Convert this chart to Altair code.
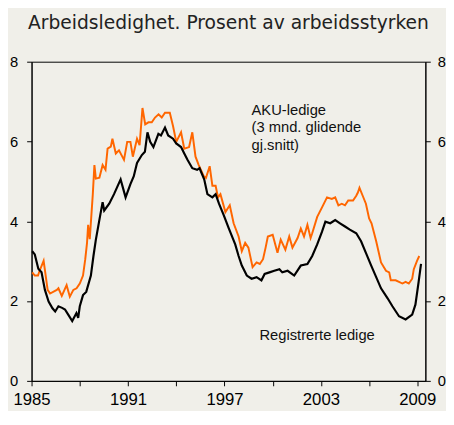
import altair as alt
import pandas as pd

# Registrerte ledige (per cent of labour force)
reg_year = [1985.04, 1985.2, 1985.42, 1985.62, 1985.83, 1986.06, 1986.3, 1986.47, 1986.67, 1986.9,
            1987.08, 1987.28, 1987.53, 1987.79, 1987.9, 1988.0, 1988.2, 1988.4, 1988.69, 1988.85,
            1989.0, 1989.2, 1989.42, 1989.52, 1989.83, 1990.13, 1990.54, 1990.85, 1991.15, 1991.36,
            1991.56, 1991.86, 1992.05, 1992.21, 1992.38, 1992.58, 1992.89, 1993.05, 1993.3, 1993.5,
            1993.8, 1994.0, 1994.3, 1994.5, 1994.7, 1995.0, 1995.3, 1995.45, 1995.74, 1995.94,
            1996.25, 1996.45, 1996.66, 1996.96, 1997.27, 1997.47, 1997.67, 1997.88, 1998.08, 1998.39,
            1998.69, 1999.0, 1999.3, 1999.5, 1999.8, 2000.1, 2000.42, 2000.6, 2000.93, 2001.34,
            2001.75, 2002.16, 2002.46, 2002.77, 2003.07, 2003.28, 2003.58, 2003.89, 2004.19, 2004.5,
            2004.8, 2005.2, 2005.5, 2005.8, 2006.13, 2006.44, 2006.74, 2007.15, 2007.45, 2007.86,
            2008.27, 2008.68, 2008.88, 2009.08, 2009.23]
reg_val = [3.25, 3.17, 2.81, 2.72, 2.28, 1.99, 1.82, 1.74, 1.87, 1.83,
           1.79, 1.66, 1.50, 1.70, 1.58, 1.87, 2.15, 2.23, 2.64, 3.13,
           3.54, 3.99, 4.48, 4.27, 4.44, 4.68, 5.05, 4.60, 4.93, 5.13,
           5.46, 5.66, 5.74, 6.23, 5.99, 5.86, 6.19, 6.15, 6.35, 6.15,
           6.07, 5.95, 5.86, 5.70, 5.54, 5.33, 5.29, 5.33, 5.05, 4.68,
           4.60, 4.68, 4.44, 4.15, 3.82, 3.62, 3.42, 3.13, 2.89, 2.64,
           2.56, 2.60, 2.52, 2.68, 2.72, 2.76, 2.80, 2.72, 2.76, 2.64,
           2.89, 2.93, 3.13, 3.42, 3.74, 3.99, 3.95, 4.03, 3.95, 3.87,
           3.79, 3.70, 3.50, 3.21, 2.89, 2.60, 2.32, 2.07, 1.87, 1.62,
           1.54, 1.66, 1.91, 2.48, 2.93]

# AKU-ledige, 3-month moving average
aku_year = [1985.04, 1985.2, 1985.4, 1985.5, 1985.75, 1985.85, 1986.0, 1986.15, 1986.57, 1986.67,
            1986.88, 1987.18, 1987.38, 1987.6, 1987.8, 1988.0, 1988.2, 1988.34, 1988.45, 1988.52,
            1988.62, 1988.81, 1988.91, 1989.0, 1989.22, 1989.42, 1989.6, 1989.73, 1989.93, 1990.03,
            1990.24, 1990.44, 1990.75, 1990.95, 1991.15, 1991.3, 1991.56, 1991.72, 1991.9, 1992.07,
            1992.27, 1992.48, 1992.68, 1992.9, 1993.1, 1993.3, 1993.6, 1993.8, 1994.0, 1994.3,
            1994.5, 1994.8, 1995.0, 1995.2, 1995.4, 1995.71, 1995.85, 1996.08, 1996.25, 1996.45,
            1996.6, 1996.75, 1997.06, 1997.33, 1997.57, 1997.88, 1998.08, 1998.29, 1998.49, 1998.75,
            1999.0, 1999.2, 1999.4, 1999.56, 1999.7, 2000.0, 2000.3, 2000.5, 2000.79, 2001.03,
            2001.23, 2001.55, 2001.75, 2001.95, 2002.16, 2002.36, 2002.46, 2002.77, 2003.07, 2003.38,
            2003.68, 2003.89, 2004.09, 2004.3, 2004.5, 2004.7, 2005.0, 2005.2, 2005.3, 2005.4,
            2005.6, 2005.8, 2006.0, 2006.15, 2006.44, 2006.74, 2007.05, 2007.25, 2007.35, 2007.65,
            2007.86, 2008.07, 2008.27, 2008.47, 2008.68, 2008.78, 2008.98, 2009.12]
aku_val = [2.72, 2.64, 2.64, 2.76, 3.01, 2.72, 2.28, 2.19, 2.28, 2.32,
           2.13, 2.40, 2.11, 2.28, 2.32, 2.44, 2.64, 3.05, 3.46, 3.91,
           3.55, 4.68, 5.41, 5.07, 5.09, 5.41, 5.29, 5.82, 5.87, 6.07,
           5.70, 5.78, 5.54, 5.99, 5.99, 5.62, 6.07, 5.91, 6.84, 6.43,
           6.48, 6.48, 6.60, 6.68, 6.60, 6.72, 6.72, 6.39, 5.99, 6.23,
           5.82, 5.86, 6.23, 5.62, 5.41, 5.13, 5.09, 5.38, 4.89, 4.89,
           4.60, 4.68, 4.23, 4.40, 3.95, 3.62, 3.25, 3.46, 3.34, 2.85,
           2.97, 2.93, 3.05, 3.34, 3.62, 3.66, 3.21, 3.54, 3.29, 3.62,
           3.34, 3.58, 3.82, 3.62, 3.91, 3.58, 3.70, 4.11, 4.35, 4.60,
           4.56, 4.60, 4.40, 4.44, 4.40, 4.52, 4.52, 4.64, 4.72, 4.84,
           4.64, 4.44, 4.07, 3.95, 3.50, 2.97, 2.76, 2.72, 2.52, 2.52,
           2.48, 2.44, 2.48, 2.44, 2.56, 2.80, 3.01, 3.13]

x_ticks = [1985, 1988, 1991, 1994, 1997, 2000, 2003, 2006, 2009]
y_ticks = [0, 2, 4, 6, 8]

title_text = "Arbeidsledighet. Prosent av arbeidsstyrken"
aku_label = ["AKU-ledige", "(3 mnd. glidende", "gj.snitt)"]
reg_label = "Registrerte ledige"

reg = pd.DataFrame({"year": reg_year, "value": reg_val})
aku = pd.DataFrame({"year": aku_year, "value": aku_val})
one = pd.DataFrame({"k": [0]})

FONT = "Liberation Sans"
xscale = alt.Scale(domain=[1985, 2009.5], nice=False, zero=False)
yscale = alt.Scale(domain=[0, 8], nice=False)

xaxis = alt.Axis(values=x_ticks, format="d", title=None, grid=False,
                 labelExpr="(datum.value - 1985) % 6 == 0 ? datum.label : ''",
                 tickSize=5, labelFontSize=17, labelPadding=6, labelFont=FONT,
                 labelFlush=False, labelOverlap=False,
                 domainColor="black", tickColor="black", labelColor="black")

def yaxis(orient, pad):
    return alt.Axis(orient=orient, values=y_ticks, title=None, grid=False,
                    tickSize=5, labelFontSize=15, labelPadding=pad, labelFont=FONT,
                    domainColor="black", tickColor="black", labelColor="black")

aku_line = alt.Chart(aku).mark_line(color="#ff6600", strokeWidth=2).encode(
    x=alt.X("year:Q", scale=xscale, axis=xaxis),
    y=alt.Y("value:Q", scale=yscale, axis=yaxis("left", 9)),
)
reg_line = alt.Chart(reg).mark_line(color="black", strokeWidth=2.2).encode(
    x=alt.X("year:Q", scale=xscale, axis=xaxis),
    y=alt.Y("value:Q", scale=yscale, axis=yaxis("right", 7)),
)

title_mark = alt.Chart(one).mark_text(
    align="center", baseline="alphabetic", font="DejaVu Sans", fontSize=19, color="#222"
).encode(x=alt.value(200.5), y=alt.value(-33), text=alt.value(title_text))

aku_text = alt.Chart(one).mark_text(
    align="left", baseline="alphabetic", font=FONT, fontSize=15, lineHeight=18, color="#111"
).encode(x=alt.value(224), y=alt.value(54), text=alt.value(aku_label))

reg_text = alt.Chart(one).mark_text(
    align="left", baseline="alphabetic", font=FONT, fontSize=15, color="#111"
).encode(x=alt.value(232), y=alt.value(283), text=alt.value(reg_label))

chart = alt.layer(aku_line, reg_line, title_mark, aku_text, reg_text).resolve_scale(
    y="independent"
).properties(
    width=401, height=325,
    padding={"left": 1, "top": 3, "right": 0, "bottom": 0},
    background="#f0efe9",
).configure_view(stroke="black", strokeWidth=1, fill="#f0efe9")

chart.save("out.html", embed_options={"renderer": "svg", "actions": False})
